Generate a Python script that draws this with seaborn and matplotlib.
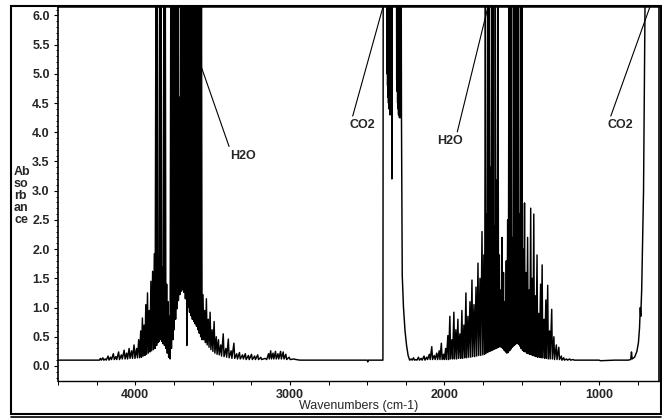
import matplotlib
matplotlib.use("Agg")
import pandas as pd
import matplotlib.pyplot as plt
import seaborn as sns
from matplotlib.ticker import MultipleLocator
from matplotlib.patches import Rectangle
from matplotlib.lines import Line2D

# spectrum, (wavenumber cm-1, absorbance); 7 = off scale
baseline_high = [(4500, 0.10), (4232, 0.10)]

h2o_stretch = [
    (4226, 0.13), (4220, 0.10), (4210, 0.14), (4204, 0.10), (4194, 0.12), (4188, 0.10),
    (4176, 0.17), (4170, 0.10), (4160, 0.15), (4154, 0.11), (4142, 0.21), (4136, 0.11),
    (4126, 0.16), (4120, 0.11), (4108, 0.24), (4102, 0.11), (4090, 0.19), (4084, 0.12),
    (4072, 0.27), (4066, 0.12), (4056, 0.22), (4050, 0.12), (4040, 0.30), (4034, 0.13),
    (4024, 0.26), (4018, 0.13), (4008, 0.36), (4002, 0.13), (3992, 0.30), (3986, 0.14),
    (3978, 0.45), (3972, 0.14), (3965, 0.60), (3960, 0.15), (3954, 0.82), (3949, 0.17),
    (3943, 0.70), (3938, 0.18), (3932, 1.05), (3927, 0.20), (3921, 1.25), (3916, 0.22),
    (3910, 0.95), (3905, 0.24), (3899, 1.45), (3894, 0.26), (3888, 1.62), (3883, 0.28),
    (3877, 1.92), (3872, 0.30), (3866, 7), (3862, 0.35), (3858, 7), (3854, 0.40),
    (3850, 1.85), (3846, 0.42), (3842, 7), (3838, 0.45), (3833, 7), (3829, 0.42),
    (3824, 1.70), (3820, 0.38), (3815, 7), (3811, 0.35), (3806, 7), (3802, 0.30),
    (3797, 1.40), (3793, 0.22), (3788, 1.10), (3784, 0.15), (3779, 0.85), (3775, 0.12),
    (3770, 7), (3766, 0.30), (3761, 7), (3757, 0.45), (3752, 7), (3748, 0.62),
    (3743, 7), (3739, 0.80), (3734, 7), (3730, 0.98), (3725, 7), (3721, 1.12),
    (3716, 4.6), (3712, 1.22), (3707, 7), (3703, 1.28), (3698, 7), (3694, 1.30),
    (3689, 7), (3685, 1.26), (3680, 7), (3676, 1.15), (3671, 7), (3667, 0.35),
    (3662, 7), (3658, 1.00), (3653, 7), (3649, 0.92), (3644, 7), (3640, 0.86),
    (3635, 7), (3631, 0.80), (3626, 7), (3622, 0.76), (3617, 7), (3613, 0.72),
    (3608, 7), (3604, 0.68), (3599, 7), (3595, 0.62), (3590, 7), (3586, 0.56),
    (3581, 7), (3577, 0.50), (3572, 7), (3568, 0.45),
]

h2o_stretch_tail = [
    (3562, 1.22), (3557, 0.45), (3551, 0.95), (3546, 0.40), (3540, 1.15), (3535, 0.36),
    (3528, 0.80), (3523, 0.32), (3516, 0.92), (3511, 0.28), (3503, 0.62), (3498, 0.25),
    (3490, 0.76), (3485, 0.22), (3476, 0.50), (3471, 0.20), (3462, 0.45), (3457, 0.19),
    (3447, 0.36), (3442, 0.17), (3431, 0.55), (3426, 0.16), (3414, 0.30), (3409, 0.15),
    (3398, 0.46), (3393, 0.14), (3380, 0.26), (3375, 0.13), (3362, 0.39), (3357, 0.13),
    (3344, 0.21), (3339, 0.12), (3326, 0.23), (3321, 0.12), (3306, 0.19), (3301, 0.12),
    (3288, 0.21), (3283, 0.11), (3268, 0.18), (3263, 0.11), (3248, 0.20), (3243, 0.11),
    (3228, 0.17), (3223, 0.11), (3208, 0.19), (3203, 0.11), (3188, 0.15), (3183, 0.11),
    (3160, 0.13), (3150, 0.11), (3138, 0.21), (3133, 0.12), (3124, 0.26), (3119, 0.12),
    (3109, 0.22), (3104, 0.12), (3093, 0.25), (3088, 0.12), (3077, 0.21), (3072, 0.12),
    (3060, 0.25), (3055, 0.12), (3043, 0.24), (3038, 0.12), (3026, 0.20), (3021, 0.11),
    (3005, 0.15), (2998, 0.11), (2975, 0.12), (2960, 0.11), (2935, 0.10),
    (2500, 0.10), (2496, 0.07), (2492, 0.10), (2398, 0.10),
]

co2_stretch = [
    (2396, 7), (2372, 7), (2371, 5.0), (2369, 7), (2368, 4.8), (2366, 7), (2365, 4.6),
    (2363, 7), (2362, 4.5), (2360, 7), (2359, 4.4), (2357, 7), (2356, 4.4), (2354, 7),
    (2353, 4.3), (2351, 7), (2350, 4.3), (2348, 7), (2347, 4.4), (2345, 7), (2344, 4.5),
    (2342, 7), (2340, 3.2), (2338, 7), (2310, 7), (2309, 4.9), (2307, 7), (2306, 4.7),
    (2304, 7), (2303, 4.5), (2301, 7), (2300, 4.4), (2298, 7), (2297, 4.3), (2295, 7),
    (2294, 4.3), (2292, 7), (2291, 4.25), (2289, 7), (2288, 4.25), (2286, 7), (2285, 4.3),
    (2283, 7), (2282, 4.25), (2280, 7), (2278, 4.25), (2273, 1.55), (2265, 1.0),
    (2255, 0.6), (2245, 0.35), (2235, 0.18), (2225, 0.10),
]

h2o_bend = [
    (2215, 0.12), (2209, 0.10), (2200, 0.14), (2194, 0.10), (2185, 0.11), (2178, 0.10),
    (2168, 0.15), (2162, 0.10), (2150, 0.13), (2144, 0.10), (2132, 0.17), (2126, 0.10),
    (2115, 0.15), (2109, 0.11), (2098, 0.20), (2092, 0.11), (2082, 0.33), (2077, 0.11),
    (2066, 0.18), (2060, 0.11), (2050, 0.22), (2044, 0.11), (2034, 0.26), (2029, 0.11),
    (2020, 0.39), (2015, 0.11), (2006, 0.20), (2001, 0.11),
    (1992, 0.30), (1987, 0.11), (1978, 0.52), (1973, 0.11), (1965, 0.85), (1960, 0.12),
    (1952, 0.45), (1947, 0.12), (1939, 0.92), (1934, 0.12), (1926, 0.62), (1921, 0.12),
    (1913, 0.80), (1908, 0.13), (1900, 0.55), (1895, 0.13), (1887, 0.95), (1882, 0.13),
    (1874, 0.70), (1869, 0.14), (1861, 1.25), (1856, 0.14), (1848, 0.85), (1843, 0.15),
    (1835, 1.10), (1830, 0.15), (1822, 1.47), (1817, 0.16), (1809, 1.05), (1804, 0.16),
    (1796, 1.35), (1791, 0.17), (1783, 1.76), (1778, 0.18), (1770, 1.50), (1765, 0.18),
    (1757, 2.30), (1752, 0.19), (1745, 1.90), (1740, 0.20),
    (1735, 7), (1731, 0.22), (1727, 2.6), (1723, 0.23), (1719, 7), (1715, 0.24),
    (1711, 7), (1707, 0.25), (1703, 3.4), (1699, 0.26), (1695, 7), (1691, 0.27),
    (1687, 7), (1683, 0.28), (1679, 2.4), (1675, 0.29), (1671, 7), (1667, 0.30),
    (1662, 3.18), (1658, 0.31), (1654, 7), (1650, 0.32),
    (1645, 1.9), (1641, 0.33), (1636, 1.3), (1632, 0.32), (1627, 2.2), (1623, 0.30),
    (1618, 1.6), (1614, 0.27), (1609, 1.1), (1605, 0.24), (1600, 1.8), (1596, 0.22),
    (1591, 2.5), (1587, 0.23), (1582, 7), (1578, 0.26), (1574, 7), (1570, 0.29),
    (1566, 7), (1562, 0.32), (1557, 2.2), (1553, 0.34), (1549, 7), (1545, 0.36),
    (1541, 7), (1537, 0.38), (1533, 7), (1529, 0.39), (1525, 7), (1521, 0.37),
    (1516, 2.6), (1512, 0.34), (1508, 7), (1504, 0.30), (1499, 7), (1495, 0.27),
    (1491, 2.0), (1487, 0.25),
    (1482, 2.79), (1478, 0.24), (1472, 1.6), (1468, 0.22), (1462, 2.2), (1458, 0.21),
    (1452, 1.3), (1448, 0.20), (1442, 2.7), (1438, 0.19), (1432, 1.5), (1428, 0.18),
    (1422, 2.6), (1418, 0.17), (1412, 1.2), (1408, 0.16), (1401, 1.9), (1397, 0.15),
    (1390, 0.9), (1386, 0.15), (1378, 1.4), (1374, 0.14), (1368, 1.73), (1364, 0.14),
    (1356, 0.8), (1352, 0.13), (1344, 1.13), (1340, 0.13), (1332, 1.38), (1328, 0.12),
    (1320, 0.6), (1316, 0.12), (1306, 0.97), (1302, 0.12), (1292, 0.5), (1288, 0.11),
    (1276, 0.36), (1272, 0.11), (1260, 0.32), (1256, 0.11), (1244, 0.17), (1240, 0.10),
    (1228, 0.14), (1224, 0.10), (1210, 0.12), (1204, 0.10), (1190, 0.12), (1184, 0.10),
    (1170, 0.11), (1160, 0.10), (1000, 0.10), (990, 0.09), (900, 0.10), (812, 0.10),
]

co2_bend = [
    (795, 0.11), (790, 0.24), (786, 0.12), (770, 0.15), (755, 0.25), (745, 0.40),
    (738, 0.65), (733, 1.0), (730, 0.85), (724, 1.3), (712, 3.0), (700, 7), (612, 7),
]

# tick values / labels
xtick_values = [4000, 3000, 2000, 1000]
xtick_labels = ["4000", "3000", "2000", "1000"]
ytick_values = [0.0, 0.5, 1.0, 1.5, 2.0, 2.5, 3.0, 3.5, 4.0, 4.5, 5.0, 5.5, 6.0]

# band labels: text, where the leader line touches the top, text top-left corner
label_names = ["H2O", "CO2", "H2O", "CO2"]
label_tip_wn = [3709, 2397, 1718, 670]
label_text_wn = [3386, 2616, 2047, 948]
label_text_abs = [3.70, 4.22, 3.95, 4.22]
label_relpos = [(0.0, 1.0), (0.1, 1.0), (0.75, 1.0), (0.1, 1.0)]

spectrum = pd.DataFrame(
    baseline_high + h2o_stretch + h2o_stretch_tail + co2_stretch + h2o_bend + co2_bend,
    columns=["wavenumber", "absorbance"],
)

sns.set_style("ticks")
plt.rcParams["font.family"] = ["Liberation Sans", "DejaVu Sans"]

W, H = 662, 418
fig = plt.figure(figsize=(W / 100, H / 100), dpi=100)
ax = fig.add_axes([58 / W, 1 - 381 / H, (659 - 58) / W, (381 - 6) / H])

sns.lineplot(data=spectrum, x="wavenumber", y="absorbance", sort=False,
             estimator=None, color="black", linewidth=1.05, ax=ax)

ax.set_xlim(4500, 612)
ax.set_ylim(-0.257, 6.16)

ax.set_xticks(xtick_values)
ax.set_xticklabels(xtick_labels)
ax.xaxis.set_minor_locator(MultipleLocator(250))
ax.set_yticks(ytick_values)
ax.set_yticklabels([f"{v:.1f}" for v in ytick_values])
ax.yaxis.set_minor_locator(MultipleLocator(0.1))

ax.tick_params(which="major", direction="out", length=3, width=0.8, color="black",
               labelsize=9, pad=3)
ax.tick_params(which="minor", direction="out", length=1.8, width=0.7, color="black")
ax.tick_params(axis="x", which="minor", length=3)
for lab in ax.get_xticklabels() + ax.get_yticklabels():
    lab.set_fontweight("bold")

for side in ["left", "right", "top", "bottom"]:
    ax.spines[side].set_visible(True)
    ax.spines[side].set_color("black")
ax.spines["top"].set_linewidth(1.8)
ax.spines["left"].set_linewidth(1.2)
ax.spines["right"].set_linewidth(1.2)
ax.spines["bottom"].set_linewidth(1.0)

ax.set_xlabel("Wavenumbers (cm-1)", fontsize=9)
ax.xaxis.set_label_coords(0.5, -0.05)
ax.xaxis.label.set_va("top")
ax.set_ylabel("Ab\nso\nrb\nan\nce", fontsize=9, fontweight="bold", rotation=0,
              ha="left", va="center", linespacing=1.0)
ax.yaxis.set_label_coords(-0.0732, 0.493)

for name, tip, tx, ty, rp in zip(label_names, label_tip_wn, label_text_wn,
                                  label_text_abs, label_relpos):
    ax.annotate(name, xy=(tip, 6.15), xytext=(tx, ty), fontsize=9, fontweight="bold",
                ha="left", va="top", annotation_clip=False,
                arrowprops=dict(arrowstyle="-", color="black", lw=0.8,
                                shrinkA=0, shrinkB=0, relpos=rp))

# outer frame of the picture
fig.add_artist(Rectangle((11 / W, 1 - 414 / H), (661 - 11) / W, (414 - 6) / H,
                         transform=fig.transFigure, fill=False, lw=1.5,
                         edgecolor="black"))
fig.add_artist(Line2D([11 / W, 661 / W], [1 - 417 / H, 1 - 417 / H],
                      transform=fig.transFigure, lw=1.2, color="black"))

fig.savefig("out.png", dpi=100)
